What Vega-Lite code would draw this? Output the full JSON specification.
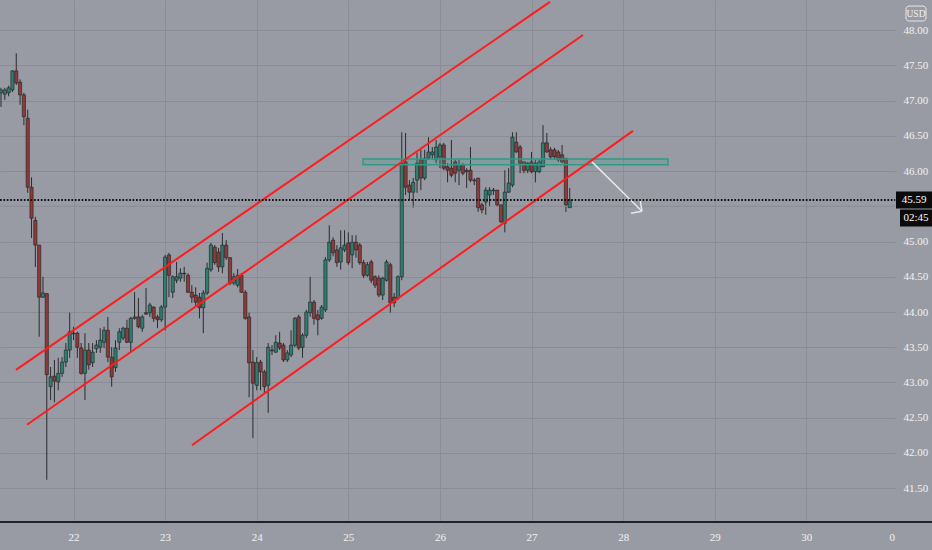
{
 "$schema": "https://vega.github.io/schema/vega-lite/v6.json",
 "width": 895,
 "height": 522,
 "autosize": {"type": "none"},
 "padding": {"left": 0, "top": 0, "right": 37, "bottom": 28},
 "background": "#989ba3",
 "config": {"view": {"stroke": null, "fill": "#989ba3"}, "font": "Liberation Sans Narrow"},
 "datasets": {
  "candles": [
   {"t":5,"o":47.11,"hi":47.18,"lo":46.91,"c":47.15},
   {"t":6,"o":47.09,"hi":47.18,"lo":47.01,"c":47.15},
   {"t":7,"o":47.11,"hi":47.21,"lo":47.06,"c":47.18},
   {"t":8,"o":47.15,"hi":47.43,"lo":47.12,"c":47.42},
   {"t":9,"o":47.42,"hi":47.67,"lo":47.22,"c":47.25},
   {"t":10,"o":47.26,"hi":47.30,"lo":46.94,"c":47.08},
   {"t":11,"o":47.08,"hi":47.11,"lo":46.65,"c":46.77},
   {"t":12,"o":46.75,"hi":46.87,"lo":45.69,"c":45.77},
   {"t":13,"o":45.77,"hi":45.91,"lo":45.05,"c":45.33},
   {"t":14,"o":45.30,"hi":45.35,"lo":44.64,"c":44.95},
   {"t":15,"o":44.95,"hi":44.95,"lo":43.65,"c":44.21},
   {"t":16,"o":44.21,"hi":44.50,"lo":44.20,"c":44.27},
   {"t":17,"o":44.26,"hi":44.27,"lo":41.62,"c":43.11},
   {"t":18,"o":42.94,"hi":43.22,"lo":42.75,"c":43.08},
   {"t":19,"o":43.09,"hi":43.32,"lo":42.72,"c":43.02},
   {"t":20,"o":43.01,"hi":43.35,"lo":42.89,"c":43.13},
   {"t":21,"o":43.13,"hi":43.36,"lo":43.08,"c":43.29},
   {"t":22,"o":43.29,"hi":43.56,"lo":43.22,"c":43.46},
   {"t":23,"o":43.46,"hi":43.99,"lo":43.35,"c":43.72},
   {"t":24,"o":43.70,"hi":43.79,"lo":43.60,"c":43.69},
   {"t":25,"o":43.70,"hi":43.72,"lo":43.35,"c":43.50},
   {"t":26,"o":43.49,"hi":43.56,"lo":43.11,"c":43.13},
   {"t":27,"o":43.13,"hi":43.70,"lo":42.75,"c":43.46},
   {"t":28,"o":43.46,"hi":43.56,"lo":43.18,"c":43.25},
   {"t":29,"o":43.28,"hi":43.56,"lo":43.22,"c":43.43},
   {"t":30,"o":43.48,"hi":43.60,"lo":43.42,"c":43.53},
   {"t":31,"o":43.50,"hi":43.77,"lo":43.42,"c":43.60},
   {"t":32,"o":43.57,"hi":43.79,"lo":43.49,"c":43.74},
   {"t":33,"o":43.74,"hi":43.93,"lo":43.29,"c":43.36},
   {"t":34,"o":43.36,"hi":43.50,"lo":42.94,"c":43.08},
   {"t":35,"o":43.21,"hi":43.60,"lo":43.15,"c":43.49},
   {"t":36,"o":43.57,"hi":43.77,"lo":43.46,"c":43.72},
   {"t":37,"o":43.63,"hi":43.79,"lo":43.60,"c":43.77},
   {"t":38,"o":43.77,"hi":43.89,"lo":43.56,"c":43.57},
   {"t":39,"o":43.57,"hi":43.93,"lo":43.43,"c":43.91},
   {"t":40,"o":43.91,"hi":44.28,"lo":43.89,"c":43.93},
   {"t":41,"o":43.93,"hi":44.20,"lo":43.77,"c":43.79},
   {"t":42,"o":43.77,"hi":43.96,"lo":43.72,"c":43.93},
   {"t":43,"o":43.99,"hi":44.34,"lo":43.96,"c":43.97},
   {"t":44,"o":43.99,"hi":44.13,"lo":43.93,"c":44.10},
   {"t":45,"o":44.07,"hi":44.08,"lo":43.86,"c":43.91},
   {"t":46,"o":43.93,"hi":43.96,"lo":43.77,"c":43.89},
   {"t":47,"o":43.89,"hi":44.10,"lo":43.86,"c":44.07},
   {"t":48,"o":44.07,"hi":44.81,"lo":43.74,"c":44.78},
   {"t":49,"o":44.81,"hi":44.84,"lo":44.21,"c":44.52},
   {"t":50,"o":44.28,"hi":44.52,"lo":44.20,"c":44.50},
   {"t":51,"o":44.45,"hi":44.71,"lo":44.41,"c":44.50},
   {"t":52,"o":44.48,"hi":44.62,"lo":44.43,"c":44.55},
   {"t":53,"o":44.55,"hi":44.64,"lo":44.43,"c":44.54},
   {"t":54,"o":44.52,"hi":44.55,"lo":44.27,"c":44.28},
   {"t":55,"o":44.28,"hi":44.38,"lo":44.13,"c":44.21},
   {"t":56,"o":44.24,"hi":44.35,"lo":44.07,"c":44.14},
   {"t":57,"o":44.21,"hi":44.27,"lo":43.91,"c":44.06},
   {"t":58,"o":44.06,"hi":44.31,"lo":43.70,"c":44.27},
   {"t":59,"o":44.27,"hi":44.70,"lo":44.24,"c":44.62},
   {"t":60,"o":44.60,"hi":44.98,"lo":44.57,"c":44.95},
   {"t":61,"o":44.92,"hi":44.95,"lo":44.67,"c":44.70},
   {"t":62,"o":44.85,"hi":44.91,"lo":44.57,"c":44.64},
   {"t":63,"o":44.64,"hi":45.12,"lo":44.55,"c":44.95},
   {"t":64,"o":44.95,"hi":45.02,"lo":44.74,"c":44.77},
   {"t":65,"o":44.77,"hi":44.78,"lo":44.38,"c":44.41},
   {"t":66,"o":44.41,"hi":44.55,"lo":44.38,"c":44.50},
   {"t":67,"o":44.38,"hi":44.61,"lo":44.35,"c":44.52},
   {"t":68,"o":44.52,"hi":44.55,"lo":44.27,"c":44.28},
   {"t":69,"o":44.28,"hi":44.31,"lo":43.89,"c":43.91},
   {"t":70,"o":43.93,"hi":43.99,"lo":42.79,"c":43.28},
   {"t":71,"o":43.29,"hi":43.46,"lo":42.21,"c":42.99},
   {"t":72,"o":42.96,"hi":43.36,"lo":42.89,"c":43.28},
   {"t":73,"o":43.29,"hi":43.32,"lo":42.89,"c":43.15},
   {"t":74,"o":43.15,"hi":43.18,"lo":42.85,"c":42.94},
   {"t":75,"o":42.96,"hi":43.56,"lo":42.57,"c":43.50},
   {"t":76,"o":43.46,"hi":43.53,"lo":43.39,"c":43.45},
   {"t":77,"o":43.43,"hi":43.67,"lo":43.42,"c":43.57},
   {"t":78,"o":43.56,"hi":43.72,"lo":43.46,"c":43.49},
   {"t":79,"o":43.53,"hi":43.56,"lo":43.29,"c":43.32},
   {"t":80,"o":43.32,"hi":43.46,"lo":43.29,"c":43.42},
   {"t":81,"o":43.39,"hi":43.74,"lo":43.36,"c":43.53},
   {"t":82,"o":43.53,"hi":43.93,"lo":43.50,"c":43.91},
   {"t":83,"o":43.93,"hi":43.96,"lo":43.46,"c":43.49},
   {"t":84,"o":43.50,"hi":43.70,"lo":43.35,"c":43.67},
   {"t":85,"o":43.67,"hi":44.03,"lo":43.63,"c":44.00},
   {"t":86,"o":43.99,"hi":44.50,"lo":43.93,"c":44.14},
   {"t":87,"o":44.14,"hi":44.17,"lo":43.82,"c":43.91},
   {"t":88,"o":43.96,"hi":44.03,"lo":43.67,"c":43.89},
   {"t":89,"o":43.91,"hi":44.10,"lo":43.89,"c":44.07},
   {"t":90,"o":44.03,"hi":44.78,"lo":44.00,"c":44.74},
   {"t":91,"o":44.74,"hi":45.23,"lo":44.71,"c":44.99},
   {"t":92,"o":45.02,"hi":45.06,"lo":44.79,"c":44.84},
   {"t":93,"o":44.88,"hi":44.95,"lo":44.64,"c":44.70},
   {"t":94,"o":44.71,"hi":45.16,"lo":44.60,"c":44.91},
   {"t":95,"o":44.88,"hi":45.16,"lo":44.85,"c":44.95},
   {"t":96,"o":44.98,"hi":45.13,"lo":44.67,"c":44.70},
   {"t":97,"o":44.81,"hi":45.09,"lo":44.62,"c":44.99},
   {"t":98,"o":44.99,"hi":45.09,"lo":44.77,"c":44.88},
   {"t":99,"o":44.95,"hi":44.98,"lo":44.67,"c":44.70},
   {"t":100,"o":44.70,"hi":44.74,"lo":44.48,"c":44.52},
   {"t":101,"o":44.52,"hi":44.71,"lo":44.50,"c":44.67},
   {"t":102,"o":44.71,"hi":44.74,"lo":44.41,"c":44.45},
   {"t":103,"o":44.50,"hi":44.52,"lo":44.34,"c":44.38},
   {"t":104,"o":44.48,"hi":44.52,"lo":44.21,"c":44.24},
   {"t":105,"o":44.24,"hi":44.50,"lo":44.17,"c":44.48},
   {"t":106,"o":44.45,"hi":44.74,"lo":44.43,"c":44.71},
   {"t":107,"o":44.67,"hi":44.70,"lo":43.99,"c":44.13},
   {"t":108,"o":44.21,"hi":44.27,"lo":44.07,"c":44.13},
   {"t":109,"o":44.20,"hi":44.52,"lo":44.17,"c":44.50},
   {"t":110,"o":44.50,"hi":46.55,"lo":44.45,"c":46.11},
   {"t":111,"o":46.13,"hi":46.54,"lo":45.66,"c":45.77},
   {"t":112,"o":45.80,"hi":45.87,"lo":45.59,"c":45.70},
   {"t":113,"o":45.70,"hi":45.90,"lo":45.48,"c":45.84},
   {"t":114,"o":45.87,"hi":46.26,"lo":45.69,"c":46.11},
   {"t":115,"o":46.16,"hi":46.30,"lo":45.73,"c":45.90},
   {"t":116,"o":45.90,"hi":46.30,"lo":45.87,"c":46.18},
   {"t":117,"o":46.18,"hi":46.48,"lo":46.16,"c":46.27},
   {"t":118,"o":46.23,"hi":46.34,"lo":46.16,"c":46.27},
   {"t":119,"o":46.16,"hi":46.44,"lo":46.11,"c":46.34},
   {"t":120,"o":46.20,"hi":46.40,"lo":46.04,"c":46.37},
   {"t":121,"o":46.37,"hi":46.40,"lo":46.01,"c":46.04},
   {"t":122,"o":46.06,"hi":46.11,"lo":45.84,"c":46.01},
   {"t":123,"o":46.04,"hi":46.44,"lo":45.91,"c":45.94},
   {"t":124,"o":46.13,"hi":46.16,"lo":45.84,"c":45.97},
   {"t":125,"o":46.01,"hi":46.16,"lo":45.80,"c":46.09},
   {"t":126,"o":46.09,"hi":46.11,"lo":45.94,"c":45.97},
   {"t":127,"o":46.01,"hi":46.04,"lo":45.76,"c":45.99},
   {"t":128,"o":46.01,"hi":46.34,"lo":45.84,"c":45.87},
   {"t":129,"o":45.87,"hi":45.90,"lo":45.80,"c":45.86},
   {"t":130,"o":45.90,"hi":45.90,"lo":45.42,"c":45.48},
   {"t":131,"o":45.52,"hi":45.55,"lo":45.40,"c":45.45},
   {"t":132,"o":45.56,"hi":45.77,"lo":45.38,"c":45.73},
   {"t":133,"o":45.66,"hi":45.77,"lo":45.49,"c":45.73},
   {"t":134,"o":45.72,"hi":45.76,"lo":45.66,"c":45.73},
   {"t":135,"o":45.73,"hi":45.73,"lo":45.49,"c":45.52},
   {"t":136,"o":45.52,"hi":45.52,"lo":45.26,"c":45.28},
   {"t":137,"o":45.26,"hi":46.01,"lo":45.13,"c":45.70},
   {"t":138,"o":45.70,"hi":46.04,"lo":45.69,"c":45.83},
   {"t":139,"o":45.80,"hi":46.55,"lo":45.77,"c":46.48},
   {"t":140,"o":46.41,"hi":46.55,"lo":46.26,"c":46.27},
   {"t":141,"o":46.34,"hi":46.37,"lo":45.97,"c":46.11},
   {"t":142,"o":46.13,"hi":46.13,"lo":45.97,"c":46.01},
   {"t":143,"o":46.01,"hi":46.13,"lo":45.97,"c":46.11},
   {"t":144,"o":46.13,"hi":46.27,"lo":45.97,"c":45.99},
   {"t":145,"o":45.99,"hi":46.16,"lo":45.84,"c":46.11},
   {"t":146,"o":45.99,"hi":46.16,"lo":45.97,"c":46.13},
   {"t":147,"o":46.06,"hi":46.65,"lo":46.06,"c":46.40},
   {"t":148,"o":46.40,"hi":46.54,"lo":46.26,"c":46.27},
   {"t":149,"o":46.30,"hi":46.34,"lo":46.16,"c":46.20},
   {"t":150,"o":46.30,"hi":46.33,"lo":46.16,"c":46.20},
   {"t":151,"o":46.27,"hi":46.30,"lo":46.13,"c":46.16},
   {"t":152,"o":46.23,"hi":46.37,"lo":46.11,"c":46.13},
   {"t":153,"o":46.18,"hi":46.18,"lo":45.42,"c":45.52},
   {"t":154,"o":45.48,"hi":45.76,"lo":45.48,"c":45.59}
  ],
  "channels": [
   {"id":"A","t":8.93,"p":43.18},{"id":"A","t":148.83,"p":48.40},
   {"id":"B","t":11.81,"p":42.40},{"id":"B","t":157.48,"p":47.93},
   {"id":"C","t":55.04,"p":42.11},{"id":"C","t":170.57,"p":46.57}
  ],
  "zone": [{"t":99.84,"t2":179.74,"p":46.17,"p2":46.09}],
  "arrow": [
   {"seg":"main","t":159.83,"p":46.13},{"seg":"main","t":172.93,"p":45.43},
   {"seg":"w1","t":170.05,"p":45.40},{"seg":"w1","t":172.93,"p":45.43},
   {"seg":"w2","t":172.41,"p":45.60},{"seg":"w2","t":172.93,"p":45.43}
  ]
 },
 "layer": [
  {
   "data": {"name": "candles"},
   "mark": {"type": "rule", "color": "#2a2b2e", "strokeWidth": 1},
   "encoding": {
    "x": {"field": "t", "type": "quantitative",
     "scale": {"domain": [4.74, 239.22], "nice": false, "zero": false, "padding": 0},
     "axis": {"orient": "bottom", "title": null,
      "values": [24,48,72,96,120,144,168,192,216,238.4],
      "labelExpr": "datum.value > 230 ? '0' : '' + (21 + datum.value / 24)",
      "grid": true, "gridColor": "#8a8d95", "gridWidth": 1,
      "gridOpacity": {"condition": {"test": "datum.value > 230", "value": 0}, "value": 1},
      "ticks": false, "domain": false, "labelColor": "#f2f2f2",
      "labelFontSize": 11, "labelPadding": 9, "labelFont": "Liberation Sans Narrow"}},
    "y": {"field": "lo", "type": "quantitative",
     "scale": {"domain": [41.021, 48.426], "nice": false, "zero": false, "padding": 0},
     "axis": {"orient": "right", "title": null,
      "values": [41.5,42,42.5,43,43.5,44,44.5,45,46,46.5,47,47.5,48],
      "format": ".2f", "grid": true, "gridColor": "#8a8d95", "gridWidth": 1,
      "ticks": false, "domain": false, "labelColor": "#f2f2f2",
      "labelFontSize": 11, "labelPadding": 8, "labelFont": "Liberation Sans Narrow"}},
    "y2": {"field": "hi"}
   }
  },
  {
   "data": {"values": [{}]},
   "mark": {"type": "rule", "color": "#8a8d95", "strokeWidth": 1},
   "encoding": {
    "y": {"datum": 45.5, "type": "quantitative"},
    "x": {"datum": 4.74, "type": "quantitative"},
    "x2": {"datum": 239.22}
   }
  },
  {
   "data": {"name": "candles"},
   "mark": {"type": "bar", "size": 3.2, "stroke": "#1e1f22", "strokeWidth": 0.6},
   "encoding": {
    "x": {"field": "t", "type": "quantitative"},
    "y": {"field": "o", "type": "quantitative"},
    "y2": {"field": "c"},
    "color": {"condition": {"test": "datum.c >= datum.o", "value": "#2e7d6e"}, "value": "#8c3a3a"}
   }
  },
  {
   "data": {"name": "zone"},
   "mark": {"type": "rect", "fill": "#3a9e8c", "fillOpacity": 0.2, "stroke": "#2f9a88", "strokeWidth": 1.5},
   "encoding": {
    "x": {"field": "t", "type": "quantitative"},
    "x2": {"field": "t2"},
    "y": {"field": "p", "type": "quantitative"},
    "y2": {"field": "p2"}
   }
  },
  {
   "data": {"name": "channels"},
   "mark": {"type": "line", "color": "#ff1c1c", "strokeWidth": 2},
   "encoding": {
    "x": {"field": "t", "type": "quantitative"},
    "y": {"field": "p", "type": "quantitative"},
    "detail": {"field": "id"}
   }
  },
  {
   "data": {"name": "arrow"},
   "mark": {"type": "line", "color": "#e8e8ea", "strokeWidth": 1.5},
   "encoding": {
    "x": {"field": "t", "type": "quantitative"},
    "y": {"field": "p", "type": "quantitative"},
    "detail": {"field": "seg"}
   }
  },
  {
   "data": {"values": [{}]},
   "mark": {"type": "rule", "color": "#111111", "strokeWidth": 2, "strokeDash": [1.7, 1.7]},
   "encoding": {
    "y": {"datum": 45.59, "type": "quantitative"},
    "x": {"datum": 4.74, "type": "quantitative"},
    "x2": {"datum": 239.3}
   }
  },
  {
   "data": {"values": [{}]},
   "mark": {"type": "rule", "color": "#1f2330", "strokeWidth": 2},
   "encoding": {
    "y": {"datum": 41.021, "type": "quantitative"},
    "x": {"datum": 4.74, "type": "quantitative"},
    "x2": {"datum": 249.2}
   }
  },
  {
   "data": {"values": [{"label": "45.59", "t1": 239.48, "t2": 249.2, "p1": 45.709, "p2": 45.468},
                       {"label": "02:45", "t1": 240.53, "t2": 249.2, "p1": 45.454, "p2": 45.213}]},
   "mark": {"type": "rect", "fill": "#0b0b0c"},
   "encoding": {
    "x": {"field": "t1", "type": "quantitative"},
    "x2": {"field": "t2"},
    "y": {"field": "p1", "type": "quantitative"},
    "y2": {"field": "p2"}
   }
  },
  {
   "data": {"values": [{"label": "45.59", "tc": 244.2, "pc": 45.59},
                       {"label": "02:45", "tc": 244.7, "pc": 45.333}]},
   "mark": {"type": "text", "color": "#ffffff", "fontSize": 11, "font": "Liberation Sans Narrow", "align": "center", "baseline": "middle"},
   "encoding": {
    "x": {"field": "tc", "type": "quantitative"},
    "y": {"field": "pc", "type": "quantitative"},
    "text": {"field": "label"}
   }
  },
  {
   "data": {"values": [{"label": "USD", "t1": 242.1, "t2": 247.34, "p1": 48.34, "p2": 48.128}]},
   "mark": {"type": "rect", "fill": null, "stroke": "#e6e6e8", "strokeWidth": 1, "cornerRadius": 3},
   "encoding": {
    "x": {"field": "t1", "type": "quantitative"},
    "x2": {"field": "t2"},
    "y": {"field": "p1", "type": "quantitative"},
    "y2": {"field": "p2"}
   }
  },
  {
   "data": {"values": [{"label": "USD", "tc": 244.72, "pc": 48.234}]},
   "mark": {"type": "text", "color": "#f2f2f2", "fontSize": 9.5, "font": "Liberation Sans Narrow", "align": "center", "baseline": "middle"},
   "encoding": {
    "x": {"field": "tc", "type": "quantitative"},
    "y": {"field": "pc", "type": "quantitative"},
    "text": {"field": "label"}
   }
  }
 ]
}
